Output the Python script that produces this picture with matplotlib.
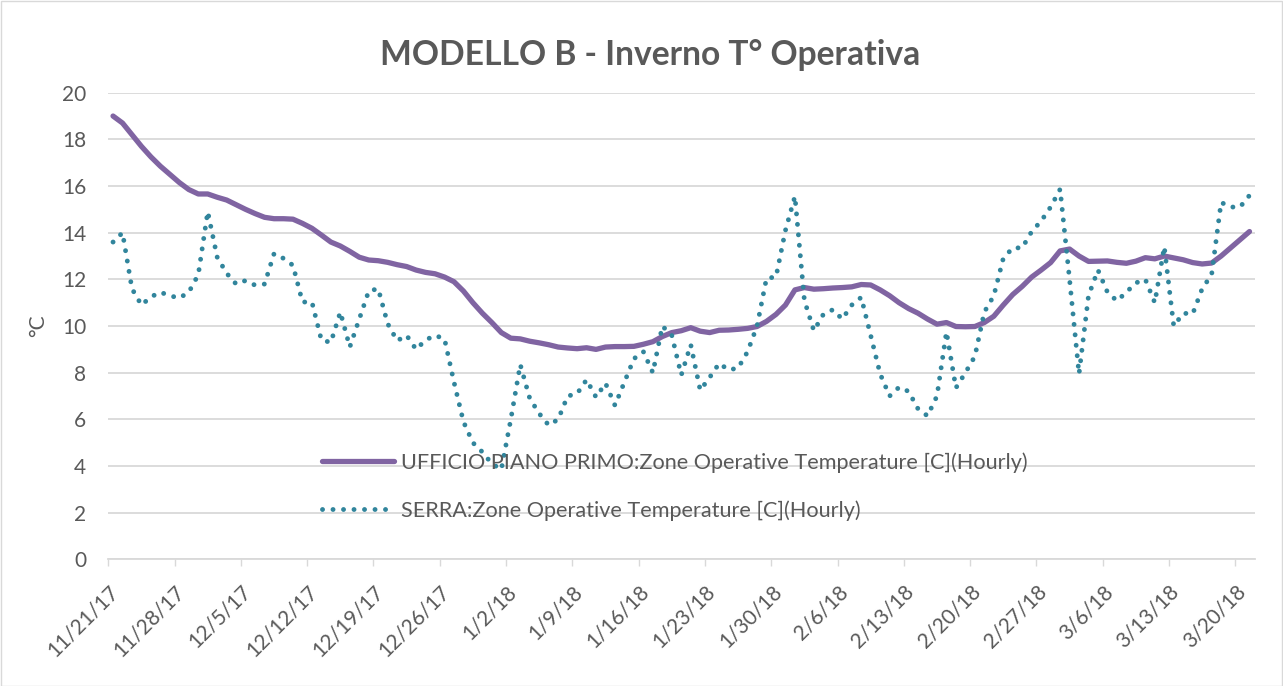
import matplotlib
matplotlib.use("Agg")
import matplotlib.pyplot as plt
import matplotlib.transforms as mtransforms
from matplotlib.patches import Rectangle
import numpy as np
import pandas as pd

plt.rcParams['font.family'] = ['Lato', 'DejaVu Sans']

title = "MODELLO B - Inverno T° Operativa"
ylabel = "°C"
label_ufficio = "UFFICIO PIANO PRIMO:Zone Operative Temperature [C](Hourly)"
label_serra = "SERRA:Zone Operative Temperature [C](Hourly)"

start_day = "2017-11-21 12:00"
n_days = 121

ufficio = [
    19.0, 18.7, 18.2, 17.7, 17.25, 16.85, 16.5, 16.15, 15.85, 15.66,
    15.66, 15.52, 15.4, 15.2, 15.0, 14.82, 14.66, 14.6, 14.6, 14.58,
    14.4, 14.19, 13.9, 13.6, 13.43, 13.2, 12.95, 12.83, 12.8, 12.73,
    12.63, 12.55, 12.4, 12.3, 12.24, 12.1, 11.9, 11.5, 11.0, 10.55,
    10.15, 9.72, 9.48, 9.45, 9.35, 9.28, 9.2, 9.1, 9.06, 9.03,
    9.07, 9.0, 9.1, 9.12, 9.12, 9.13, 9.22, 9.33, 9.55, 9.72,
    9.8, 9.93, 9.78, 9.72, 9.82, 9.83, 9.86, 9.9, 9.98, 10.2,
    10.5, 10.9, 11.55, 11.65, 11.58, 11.6, 11.63, 11.65, 11.68, 11.78,
    11.76, 11.55, 11.3, 11.0, 10.75, 10.55, 10.3, 10.08, 10.15, 9.98,
    9.97, 9.98, 10.15, 10.42, 10.9, 11.35, 11.7, 12.1, 12.4, 12.72,
    13.22, 13.3, 13.0, 12.77, 12.78, 12.79, 12.73, 12.69, 12.78, 12.93,
    12.88, 13.0, 12.92, 12.84, 12.72, 12.66, 12.7, 13.0, 13.35, 13.7,
    14.05,
]

serra = [
    13.6, 14.0, 11.6, 10.9, 11.25, 11.45, 11.3, 11.2, 11.45, 12.2,
    14.9, 12.95, 12.26, 11.8, 11.95, 11.75, 11.8, 13.1, 12.9, 12.6,
    11.03, 11.03, 9.4, 9.3, 10.6, 9.1, 10.3, 11.5, 11.6, 10.1,
    9.37, 9.6, 9.0, 9.4, 9.6, 9.45, 7.6, 5.9, 5.0, 4.6,
    4.1, 3.85, 6.0, 8.35, 6.9, 6.25, 5.75, 6.0, 7.0, 7.1,
    7.7, 6.95, 7.55, 6.6, 7.6, 8.6, 8.9, 8.0, 10.0, 9.6,
    7.9, 9.2, 7.25, 7.8, 8.4, 8.12, 8.2, 8.9, 10.0, 12.05,
    12.1, 14.1, 15.56, 11.1, 9.8, 10.5, 10.7, 10.3, 10.9, 11.23,
    9.6, 7.95, 7.0, 7.38, 7.2, 6.45, 6.15, 7.0, 9.75, 7.35,
    8.0, 8.7, 10.6, 11.3, 12.9, 13.35, 13.35, 14.05, 14.5, 15.1,
    15.86, 12.0, 7.95, 11.3, 12.4, 11.45, 11.08, 11.45, 11.85, 12.0,
    11.0, 13.4, 10.0, 10.55, 10.52, 11.6, 12.2, 15.3, 15.1, 15.1,
    15.6,
]

tick_start = "2017-11-21"
n_ticks = 18
y_ticks = list(range(0, 21, 2))

dates = pd.date_range(start_day, periods=n_days, freq="D")
tick_dates = pd.date_range(tick_start, periods=n_ticks, freq="7D")
tick_labels = [f"{d.month}/{d.day}/{d.strftime('%y')}" for d in tick_dates]

W, H = 1283, 686
fig = plt.figure(figsize=(W / 100, H / 100), dpi=100)
ax = fig.add_axes([108.3 / W, 1 - 559.4 / H, (1255 - 108.3) / W, (559.4 - 92.7) / H])

grey_text = "#595959"
grid_c = "#d9d9d9"
purple = "#8064A2"
teal = "#31859C"

ax.plot(dates, ufficio, color=purple, lw=3.8, solid_capstyle="round",
        solid_joinstyle="round", label=label_ufficio, zorder=3)
ax.plot(dates, serra, color=teal, lw=3.5, linestyle=(0, (0.01, 2.15)),
        dash_capstyle="round", label=label_serra, zorder=3)

ax.set_ylim(0, 20)
ax.set_yticks(y_ticks)
x0 = pd.Timestamp(tick_start)
ax.set_xlim(x0, x0 + pd.Timedelta(days=121.08))
ax.set_xticks(tick_dates)
ax.set_xticklabels(tick_labels, rotation=45, ha="right", va="top",
                   rotation_mode="anchor")
offset = mtransforms.ScaledTranslation(10 / 100, 0, fig.dpi_scale_trans)
for lbl in ax.get_xticklabels():
    lbl.set_transform(lbl.get_transform() + offset)

ax.grid(axis="y", color=grid_c, lw=1.3, zorder=0)
ax.set_axisbelow(True)
for s in ["left", "right", "top"]:
    ax.spines[s].set_visible(False)
ax.spines["bottom"].set_color(grid_c)
ax.spines["bottom"].set_linewidth(1.3)
ax.tick_params(axis="y", length=0, pad=16, labelsize=15, labelcolor=grey_text)
ax.tick_params(axis="x", length=5, width=1.0, color=grid_c, pad=11,
               labelsize=15, labelcolor=grey_text)

ax.set_ylabel(ylabel, fontsize=15, color=grey_text, labelpad=10)
fig.text(650 / W, 1 - 55 / H, title, ha="center", va="center",
         fontsize=24.2, fontweight="bold", color=grey_text)

leg = ax.legend(loc="center left", bbox_to_anchor=(322 / W, 1 - 486.5 / H),
                bbox_transform=fig.transFigure, frameon=False, fontsize=15.6,
                handlelength=3.3, handletextpad=0.35, labelspacing=1.25,
                borderpad=0, borderaxespad=0)
for t in leg.get_texts():
    t.set_color(grey_text)

fig.patches.append(Rectangle((0.5 / W, 0.5 / H), 1 - 1.5 / W, 1 - 1.5 / H,
                             transform=fig.transFigure, fill=False,
                             edgecolor=grid_c, lw=1.0))

fig.savefig("out.png", dpi=100)
